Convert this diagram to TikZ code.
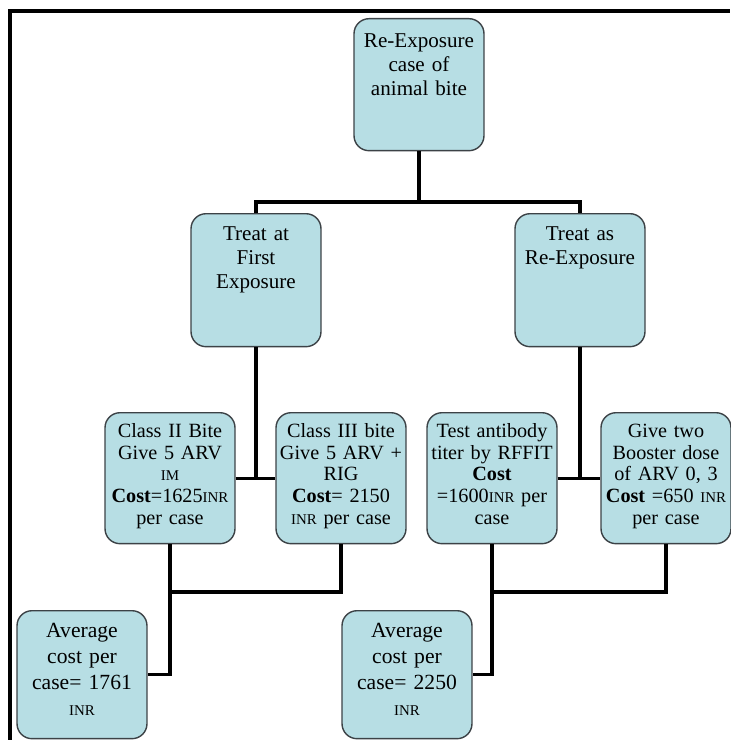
\documentclass[tikz,border=0pt]{standalone}
\usepackage{fontspec}
\setmainfont{Liberation Serif}
\definecolor{boxfill}{RGB}{183,222,228}
\definecolor{boxline}{RGB}{60,66,70}
\newcommand{\inr}{{\fontsize{8.5}{10}\selectfont INR}}

\begin{document}
\begin{tikzpicture}[
    x=0.02cm, y=-0.02cm,
    box/.style={rectangle, rounded corners=0.3cm, draw=boxline, line width=0.8pt, fill=boxfill, anchor=north, align=center, text width=2.5cm, inner xsep=0.05cm, inner ysep=0pt, font=\fontsize{11.5}{12.3}\selectfont},
    topbox/.style={box, font=\fontsize{12}{13.6}\selectfont, text height=0.58cm, text depth=2.06cm},
    treatbox/.style={topbox, text height=0.54cm, text depth=2.12cm},
    costbox/.style={box, text height=0.5cm, text depth=2.12cm},
    avgbox/.style={box, font=\fontsize{12.3}{14.7}\selectfont, text height=0.54cm, text depth=2.02cm},
    link/.style={line width=1.9pt},
    frame/.style={line width=2pt}
]
    \useasboundingbox (0,0) rectangle (730,740);
    \draw[frame] (10,740) -- (10,11) -- (730,11);

    % Root
    \node[topbox] (root) at (419,18) {Re-Exposure\\case of\\animal bite};

    % Two ways to treat
    \node[treatbox] (first) at (256,213) {Treat at\\First\\Exposure};
    \node[treatbox] (reexp) at (580,213) {Treat as\\Re-Exposure};

    \coordinate (split) at (419,202);
    \draw[link] (root) -- (split);
    \draw[link] (first.north) |- (split) -| (reexp.north);

    % Treat at first exposure
    \node[costbox] (classtwo) at (170,412) {Class II Bite\\Give 5 ARV\\{\fontsize{8.5}{10}\selectfont IM}\\\textbf{Cost}=1625\inr\\per case};
    \node[costbox] (classthree) at (341,412) {Class III bite\\Give 5 ARV +\\RIG\\\textbf{Cost}= 2150\\\inr{} per case};

    \draw[link] (first) -- (first.south |- classtwo.east);
    \draw[link] (classtwo.east) -- (classthree.west);

    % Treat as re-exposure
    \node[costbox] (rffit) at (492,412) {Test antibody\\titer by RFFIT\\\textbf{Cost}\\=1600\inr{} per\\case};
    \node[costbox] (booster) at (666,412) {Give two\\Booster dose\\of ARV 0, 3\\\textbf{Cost} =650 \inr\\per case};

    \draw[link] (reexp) -- (reexp.south |- rffit.east);
    \draw[link] (rffit.east) -- (booster.west);

    % Averages
    \node[avgbox] (avgfirst) at (82,610) {Average\\cost per\\case= 1761\\\inr};
    \node[avgbox] (avgre) at (407,610) {Average\\cost per\\case= 2250\\\inr};

    \coordinate (joinfirst) at (170,592);
    \coordinate (joinre) at (492,592);
    \draw[link] (classtwo) -- (joinfirst) -| (classthree);
    \draw[link] (joinfirst) |- (avgfirst.east);
    \draw[link] (rffit) -- (joinre) -| (booster);
    \draw[link] (joinre) |- (avgre.east);
\end{tikzpicture}
\end{document}
